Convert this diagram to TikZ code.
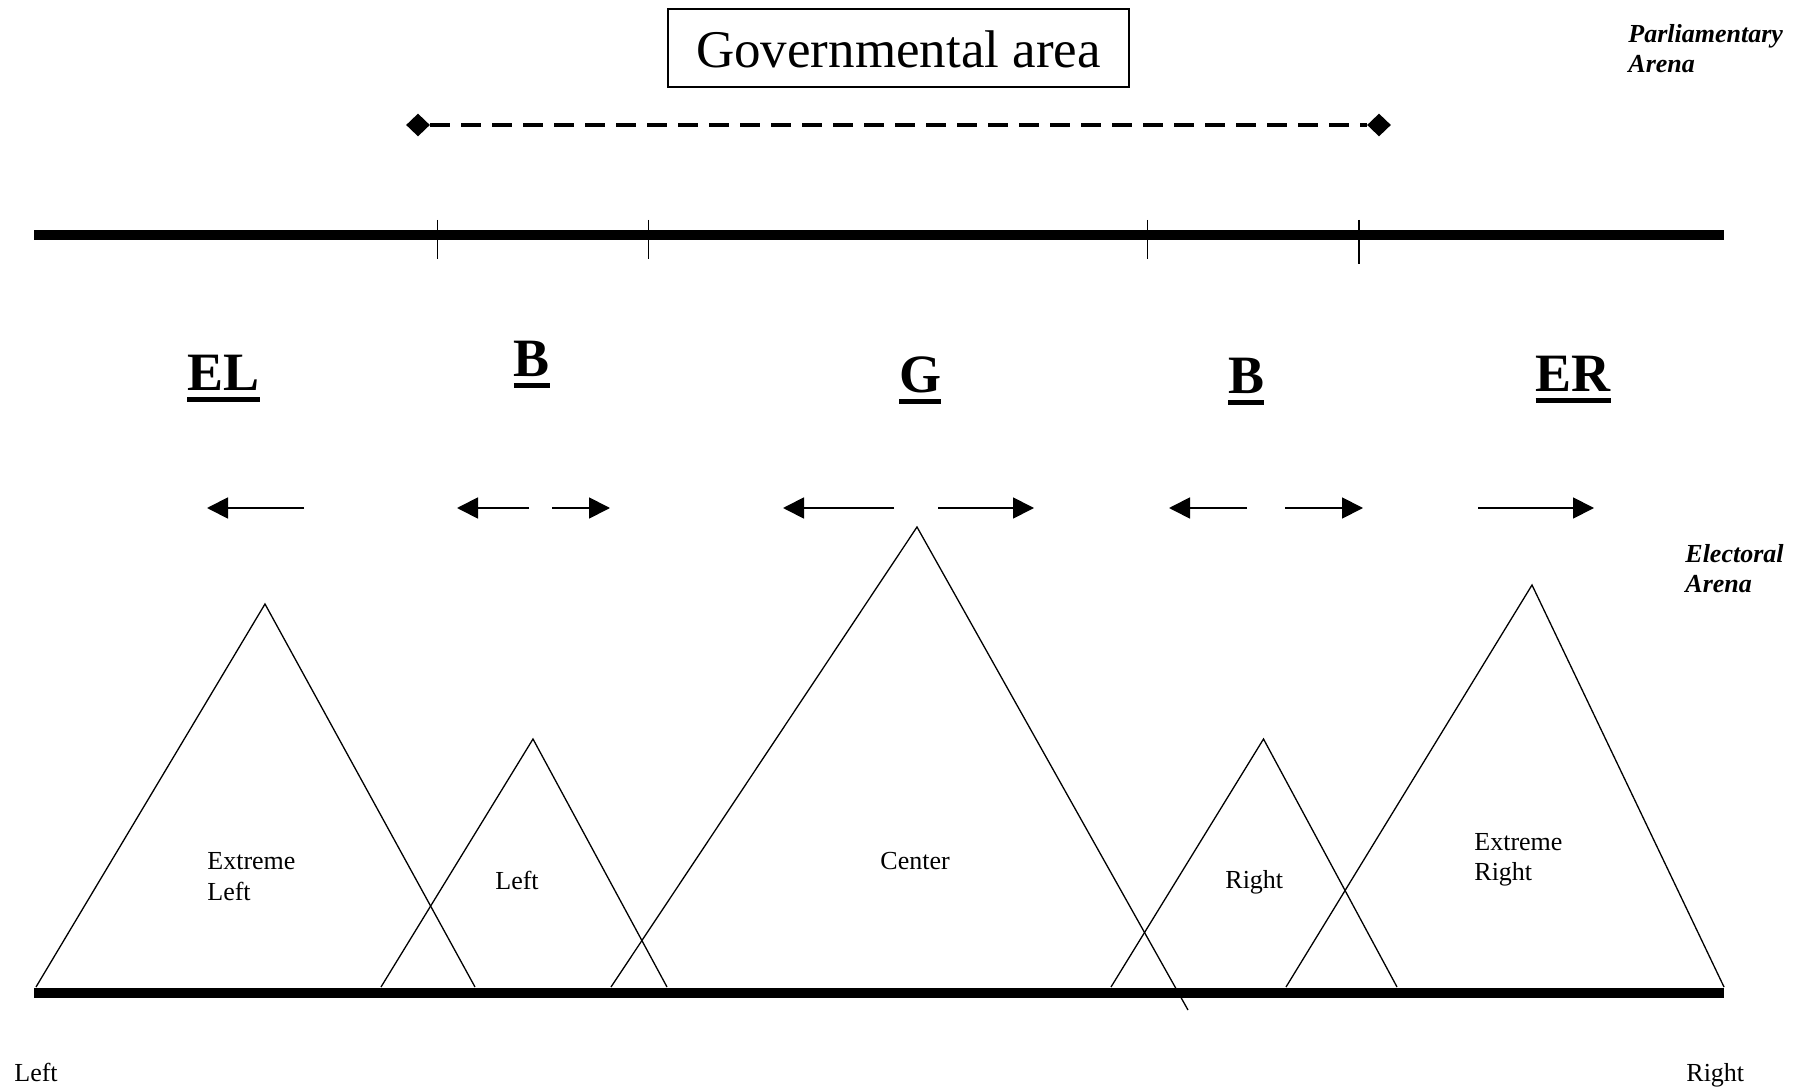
\documentclass[tikz,border=0pt]{standalone}
\usepackage{fontspec}
\setmainfont{Liberation Serif}
\usetikzlibrary{arrows.meta,shapes.geometric}
\newcommand\myul[1]{\setbox0=\hbox{#1}\rlap{\rule[-5.4pt]{\wd0}{2.6pt}}\box0}
\newcommand\twoln[3]{\vtop{\baselineskip=#3\hbox{#1}\hbox{#2}}}
\tikzset{
  axis/.style={line width=5pt},
  tickmark/.style={line width=0.7pt},
  tri/.style={line width=0.65pt},
  mover/.style={line width=0.9pt,-{Triangle[length=10.5pt,width=10.5pt]}},
  small/.style={inner sep=0pt,anchor=base west,font=\fontsize{13pt}{15.5pt}\selectfont},
  arena/.style={small,font=\fontsize{13pt}{15.5pt}\selectfont\bfseries\itshape},
  big/.style={inner sep=0pt,anchor=base,font=\fontsize{27pt}{30pt}\selectfont\bfseries},
  endmark/.style={diamond,fill=black,inner sep=0pt,minimum width=12pt,minimum height=11.5pt}
}
\begin{document}
\begin{tikzpicture}[x=0.5pt,y=-0.5pt]
\useasboundingbox (0,0) rectangle (1803,1090);
% governmental area
\node[draw,line width=0.8pt,minimum width=230.5pt,minimum height=39pt,inner sep=0pt,
      text height=20pt,text depth=0pt,font=\fontsize{26.5pt}{30pt}\selectfont] (gov) at (898.5,48) {Governmental area};
\node[endmark] (dl) at (418,125) {};
\node[endmark] (dr) at (1379,125) {};
\draw[line width=1.7pt,dash pattern=on 10pt off 5.5pt] (dl) -- (dr);
% parliamentary axis
\coordinate (pa) at (34,235);
\coordinate (pb) at (1724,235);
\draw[axis] (pa) -- (pb);
\draw[tickmark] (437.6,220) -- (437.6,259);
\draw[tickmark] (648.6,220) -- (648.6,259);
\draw[tickmark] (1147.6,220) -- (1147.6,259);
\draw[tickmark] (1359,220) -- (1359,264);
% group labels
\node[big] (el) at (223.5,391) {\myul{EL}};
\node[big] (b1) at (532,377) {\myul{B}};
\node[big] (g) at (920,393) {\myul{G}};
\node[big] (b2) at (1246,394) {\myul{B}};
\node[big] (er) at (1573,392) {\myul{ER}};
% movement arrows
\draw[mover] (304,508) -- (207,508);
\draw[mover] (529,508) -- (457,508);
\draw[mover] (552,508) -- (610,508);
\draw[mover] (894,508) -- (783,508);
\draw[mover] (938,508) -- (1034,508);
\draw[mover] (1247,508) -- (1169,508);
\draw[mover] (1285,508) -- (1363,508);
\draw[mover] (1478,508) -- (1594,508);
% electoral axis
\coordinate (ea) at (34,993);
\coordinate (eb) at (1724,993);
\draw[axis] (ea) -- (eb);
% distributions
\draw[tri] (36,987) -- (265,604) -- (475,987);
\draw[tri] (381,987) -- (533,739) -- (667,987);
\draw[tri] (611,987) -- (917,527) -- (1188,1010);
\draw[tri] (1111,987) -- (1263.5,739) -- (1397,987);
\draw[tri] (1286,987) -- (1532,585) -- (1724,987);
% labels
\node[small] (xl) at (207,869) {\twoln{Extreme}{Left}{15.5pt}};
\node[small] (lf) at (495,889) {Left};
\node[small] (ct) at (880,869) {Center};
\node[small] (rt) at (1225,888) {Right};
\node[small] (xr) at (1474,850) {\twoln{Extreme}{Right}{15pt}};
\node[arena] (parl) at (1628,43) {\twoln{Parliamentary}{Arena}{15pt}};
\node[arena] (elec) at (1685,562) {\twoln{Electoral}{Arena}{15pt}};
\node[small] (lend) at (14,1081) {Left};
\node[small] (rend) at (1686,1081) {Right};
\end{tikzpicture}
\end{document}
